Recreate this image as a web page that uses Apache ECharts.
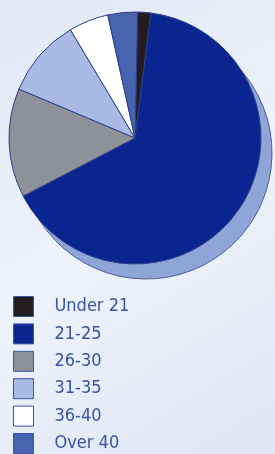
<!DOCTYPE html>
<html>
<head>
<meta charset="utf-8">
<script src="https://cdn.jsdelivr.net/npm/echarts@6/dist/echarts.min.js"></script>
<style>
  html, body { margin: 0; padding: 0; }
  body { background: #e8eef8; }
  #main { width: 275px; height: 454px; }
</style>
</head>
<body>
<div id="main"></div>
<script>
// age groups and their share (%)
var categories = ['Under 21', '21-25', '26-30', '31-35', '36-40', 'Over 40'];
var shares = [1.7, 65.4, 14.0, 10.1, 5.1, 3.8];
var colors = ['#231d22', '#0a2590', '#8e9198', '#a9bbe4', '#ffffff', '#4762ae'];

var pieData = categories.map(function (name, i) {
  return { name: name, value: shares[i], itemStyle: { color: colors[i] } };
});

var myChart = echarts.init(document.getElementById('main'));
var option = {
  backgroundColor: {
    type: 'linear', x: 0, y: 0, x2: 1, y2: 1,
    colorStops: [
      { offset: 0, color: '#dfe8f5' },
      { offset: 0.5, color: '#eef3fa' },
      { offset: 1, color: '#dce6f4' }
    ]
  },
  animation: false,
  legend: {
    orient: 'vertical',
    left: 13,
    top: 296,
    height: 170,
    padding: 0,
    itemWidth: 20,
    itemHeight: 20,
    itemGap: 6.4,
    icon: 'rect',
    selectedMode: false,
    data: categories,
    itemStyle: { borderColor: '#3d55a5', borderWidth: 1 },
    textStyle: {
      color: '#3a52a4',
      fontFamily: 'DejaVu Sans Condensed, Liberation Sans Narrow, sans-serif',
      fontSize: 18,
      lineHeight: 20,
      padding: [0, 0, 0, 16]
    }
  },
  series: [
    {
      // the offset disc that gives the pie its shadow
      type: 'pie',
      silent: true,
      center: [146, 153],
      radius: 126,
      startAngle: 88.8,
      label: { show: false },
      itemStyle: { color: '#8fa4d7', borderColor: '#4a5c9c', borderWidth: 1 },
      data: [{ name: 'shadow', value: 1 }],
      legendHoverLink: false,
      z: 1
    },
    {
      type: 'pie',
      center: [135, 138],
      radius: 126,
      startAngle: 88.8,
      clockwise: true,
      label: { show: false },
      labelLine: { show: false },
      itemStyle: { borderColor: '#2c3f8a', borderWidth: 1 },
      data: pieData,
      z: 2
    }
  ]
};
myChart.setOption(option);
</script>
</body>
</html>
